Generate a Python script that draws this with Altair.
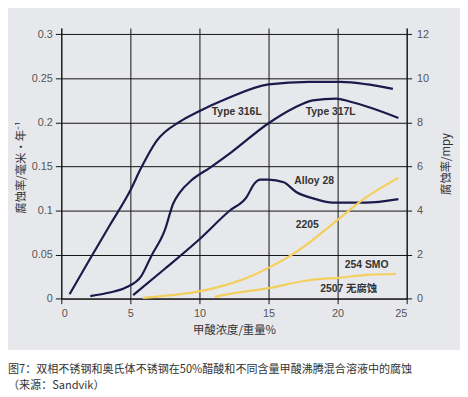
import altair as alt
import pandas as pd

# ---------------- data ----------------
s316_x = [0.6, 2.0, 3.5, 5.0, 5.8, 6.9, 8.6, 9.9, 12.0, 15.0, 17.9, 20.2, 22.2, 24.0]
s316_y = [0.005, 0.043, 0.083, 0.123, 0.149, 0.179, 0.201, 0.212, 0.227, 0.243, 0.246, 0.246, 0.243, 0.238]

s317_x = [2.1, 3.5, 4.7, 5.8, 6.5, 7.5, 8.1, 8.6, 9.4, 10.8, 12.3, 15.0, 16.8, 18.2, 19.9, 20.8, 22.5, 24.4]
s317_y = [0.003, 0.007, 0.013, 0.026, 0.048, 0.078, 0.108, 0.121, 0.134, 0.149, 0.166, 0.199, 0.216, 0.225, 0.227, 0.224, 0.216, 0.205]

a28_x = [5.2, 7.5, 9.9, 12.2, 13.4, 14.0, 14.4, 15.0, 16.1, 17.0, 18.4, 19.6, 22.0, 24.4]
a28_y = [0.004, 0.034, 0.066, 0.100, 0.115, 0.131, 0.135, 0.135, 0.132, 0.121, 0.113, 0.109, 0.109, 0.113]

d2205_x = [5.9, 8.0, 9.9, 12.0, 13.5, 15.0, 17.1, 20.2, 21.8, 24.4]
d2205_y = [0.001, 0.004, 0.008, 0.016, 0.024, 0.035, 0.054, 0.092, 0.112, 0.137]

smo_x = [11.1, 12.0, 15.0, 17.9, 20.2, 22.2, 24.2]
smo_y = [0.002, 0.005, 0.012, 0.021, 0.024, 0.027, 0.028]

series_names = ["Type 316L", "Type 317L", "Alloy 28", "2205", "254 SMO / 2507"]
series_colors = ["#1b1a4a", "#1b1a4a", "#1b1a4a", "#f3cf5b", "#f3cf5b"]

label_text = ["Type 316L", "Type 317L", "Alloy 28", "2205", "254 SMO", "2507 无腐蚀"]
label_x = [12.7, 19.5, 18.3, 17.8, 22.1, 20.8]
label_y = [0.212, 0.212, 0.134, 0.083, 0.038, 0.011]

x_ticks = [0, 5, 10, 15, 20, 25]
y_ticks = [0, 0.05, 0.1, 0.15, 0.2, 0.25, 0.3]
y2_ticks = [0, 2, 4, 6, 8, 10, 12]

x_title = "甲酸浓度/重量%"
y_title = "腐蚀率/毫米・年⁻¹"
y2_title = "腐蚀率/mpy"
caption = ["图7：双相不锈钢和奥氏体不锈钢在50%醋酸和不同含量甲酸沸腾混合溶液中的腐蚀",
           "（来源：Sandvik）"]

# ---------------- tables ----------------
rows = []
for name, xs, ys in zip(series_names,
                        [s316_x, s317_x, a28_x, d2205_x, smo_x],
                        [s316_y, s317_y, a28_y, d2205_y, smo_y]):
    for i, (xv, yv) in enumerate(zip(xs, ys)):
        rows.append({"series": name, "x": xv, "y": yv, "order": i})
lines_df = pd.DataFrame(rows)
labels_df = pd.DataFrame({"label": label_text, "x": label_x, "y": label_y})
mpy_df = pd.DataFrame({"mpy": y2_ticks})

W, H = 350, 274.3
Y_MAX = 0.307
FONT = "Liberation Sans, Arial, Noto Sans CJK SC"
CJK = "Noto Sans CJK SC"
GRAY = "#e7e8ec"

xscale = alt.Scale(domain=[0, 25], nice=False, zero=False)
yscale = alt.Scale(domain=[0, Y_MAX], nice=False)

# white strip under the gray panel (for the caption)
white = alt.Chart(pd.DataFrame({"k": [0]})).mark_rect(color="white").encode(
    x=alt.value(-60), x2=alt.value(420), y=alt.value(326.3), y2=alt.value(400)
)

base_x = alt.X("x:Q", scale=xscale, axis=alt.Axis(
    values=x_ticks, title=x_title, grid=True, gridColor="#111", gridWidth=1,
    domainColor="#111", tickColor="#111", tickSize=5, labelPadding=4,
    labelColor="#555", labelFont=FONT, labelFontSize=11, labelFontWeight="normal",
    titleFont=CJK, titleFontSize=11.5, titleColor="#333", titleFontWeight="normal",
    titleX=175, titleY=32, titleBaseline="middle", titleAlign="center"))

lines = alt.Chart(lines_df).mark_line(interpolate="monotone", strokeWidth=2.2).encode(
    x=base_x,
    y=alt.Y("y:Q", scale=yscale, axis=alt.Axis(
        values=y_ticks, format="~g", title=y_title, grid=True, gridColor="#111", gridWidth=1,
        domainColor="#111", tickColor="#111", tickSize=6, labelPadding=3,
        labelColor="#555", labelFont=FONT, labelFontSize=11,
        titleFont=CJK, titleFontSize=11.5, titleColor="#333", titleFontWeight="normal",
        titleAngle=270, titleX=-40, titleY=140.8, titleBaseline="middle", titleAlign="center")),
    color=alt.Color("series:N", scale=alt.Scale(domain=series_names, range=series_colors), legend=None),
    detail="series:N",
    order="order:Q",
)

labels = alt.Chart(labels_df).mark_text(
    font=FONT, fontSize=10.5, fontWeight="bold", color="#333", align="center", baseline="middle"
).encode(
    x=alt.X("x:Q", scale=xscale),
    y=alt.Y("y:Q", scale=yscale),
    text="label:N",
)

main = alt.layer(lines, labels)

right_axis = alt.Chart(mpy_df).mark_point(opacity=0).encode(
    y=alt.Y("mpy:Q", scale=alt.Scale(domain=[0, Y_MAX * 40], nice=False), axis=alt.Axis(
        orient="right", values=y2_ticks, format="d", title=y2_title, grid=False,
        domainColor="#111", tickColor="#111", tickSize=5, labelPadding=5,
        labelColor="#555", labelFont=FONT, labelFontSize=11,
        titleFont=CJK, titleFontSize=11.5, titleColor="#333", titleFontWeight="normal",
        titleAngle=270, titleX=40, titleY=137.3, titleBaseline="middle", titleAlign="center")),
)

cap_df = pd.DataFrame({"t": caption, "line": [0, 1]})
cap1 = alt.Chart(cap_df.iloc[[0]]).mark_text(
    font=CJK, fontSize=11.2, color="#333", align="left", baseline="middle"
).encode(x=alt.value(-54), y=alt.value(346.3), text="t:N")
cap2 = alt.Chart(cap_df.iloc[[1]]).mark_text(
    font=CJK, fontSize=11.2, color="#333", align="left", baseline="middle"
).encode(x=alt.value(-54), y=alt.value(362.3), text="t:N")

chart = alt.layer(white, main, right_axis, cap1, cap2).resolve_scale(
    y="independent"
).properties(
    width=W, height=H,
    autosize=alt.AutoSizeParams(type="none"),
    padding={"left": 54, "top": 17.7, "right": 54, "bottom": 97},
    background=GRAY,
).configure_view(stroke=None).configure_axis(domainWidth=1, tickWidth=1)

chart.save("out.html", embed_options={"renderer": "svg", "actions": False})
